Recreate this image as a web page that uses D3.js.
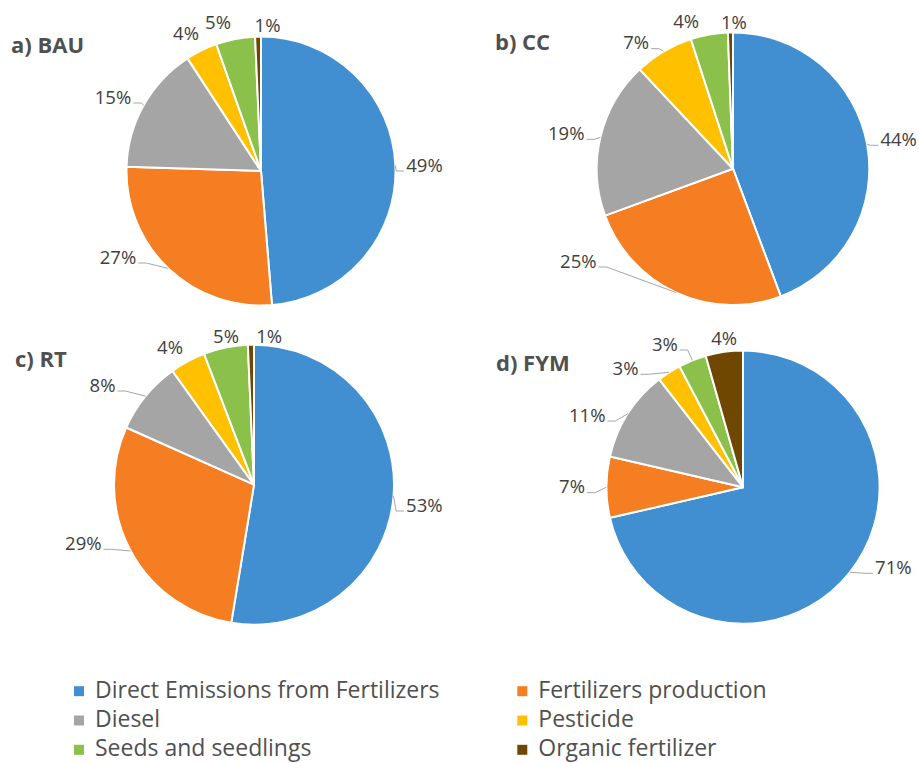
<!DOCTYPE html>
<html>
<head>
<meta charset="utf-8">
<script src="https://cdn.jsdelivr.net/npm/d3@7"></script>
<style>
  html, body { margin: 0; padding: 0; background: #ffffff; }
  svg { display: block; font-family: "Open Sans", "Noto Sans", sans-serif; }
</style>
</head>
<body>
<svg id="chart" width="919" height="763"></svg>
<script>
// ---- Data ----
const categories = [
  "Direct Emissions from Fertilizers",
  "Fertilizers production",
  "Diesel",
  "Pesticide",
  "Seeds and seedlings",
  "Organic fertilizer"
];
const scenarios = ["a) BAU", "b) CC", "c) RT", "d) FYM"];
const bauValues = [48.7, 26.8, 15.3, 3.8, 4.7, 0.7];
const ccValues  = [44.3, 25.1, 18.6, 7.0, 4.4, 0.6];
const rtValues  = [52.6, 29.1, 8.4, 4.1, 5.1, 0.7];
const fymValues = [71.4, 7.2, 10.9, 2.8, 3.3, 4.4];
const seriesValues = [bauValues, ccValues, rtValues, fymValues];

// ---- Styles / layout ----
const colors = ["#418fd0", "#f47e21", "#a5a5a5", "#ffc000", "#8bc04a", "#6f4700"];
const panels = [
  { cx: 261, cy: 171,   r: 134.5, tx: 11,  ty: 53 },
  { cx: 733, cy: 168.7, r: 136.3, tx: 495, ty: 50 },
  { cx: 254, cy: 484.7, r: 140,   tx: 15,  ty: 366.7 },
  { cx: 743, cy: 487.2, r: 136.6, tx: 496, ty: 371 }
];
// label centre offsets from pie centre [dx, dy, leader]
const labelLayout = [
  [[163.5, -6, 1], [-143, 86, 1], [-148, -74, 1], [-75, -138, 0], [-43, -149, 0], [6.5, -146, 0]],
  [[165.7, -29.4, 1], [-154.7, 92.3, 1], [-166.8, -35.4, 1], [-96.8, -126, 1], [-46.8, -147, 0], [0.8, -146, 0]],
  [[170.3, 20.3, 1], [-170.7, 58.6, 1], [-151.5, -99.7, 1], [-84, -137.4, 0], [-28, -148, 0], [15.2, -148, 0]],
  [[150.3, 80.1, 1], [-171, -0.5, 1], [-155.8, -72.2, 1], [-117.5, -118.9, 1], [-78.2, -143.2, 1], [-18.8, -148.9, 0]]
];

const svg = d3.select("#chart");
const color = d3.scaleOrdinal().domain(categories).range(colors);
const pct = d3.format(".0%");
const pie = d3.pie().sort(null).value(d => d.value);

scenarios.forEach((name, i) => {
  const p = panels[i];
  const vals = seriesValues[i];
  const total = d3.sum(vals);
  const data = categories.map((c, k) => ({ cat: c, value: vals[k] }));
  const arcs = pie(data);
  const arc = d3.arc().innerRadius(0).outerRadius(p.r);
  const g = svg.append("g").attr("transform", `translate(${p.cx},${p.cy})`);

  g.selectAll("path.slice").data(arcs).join("path")
    .attr("class", "slice")
    .attr("d", arc)
    .attr("fill", d => color(d.data.cat))
    .attr("stroke", "#ffffff")
    .attr("stroke-width", 2)
    .attr("stroke-linejoin", "round");

  // labels
  arcs.forEach((d, k) => {
    const [dx, dy, lead] = labelLayout[i][k];
    const t = g.append("text")
      .attr("x", dx).attr("y", dy)
      .attr("dy", "0.36em")
      .attr("text-anchor", "middle")
      .attr("font-size", "18.5px")
      .attr("fill", "#404040")
      .text(pct(d.data.value / total));
    if (lead) {
      const w = t.node().getComputedTextLength();
      const mid = (d.startAngle + d.endAngle) / 2;
      const ax = Math.sin(mid) * p.r, ay = -Math.cos(mid) * p.r;
      const side = dx < 0 ? 1 : -1; // label on left -> attach at right edge
      const sx = dx + side * (w / 2 + 2), sy = dy + 6;
      const hx = sx + side * 8;
      g.insert("polyline", "text")
        .attr("points", `${sx},${sy} ${hx},${sy} ${ax},${ay}`)
        .attr("fill", "none")
        .attr("stroke", "#a6a6a6")
        .attr("stroke-width", 1);
    }
  });

  svg.append("text")
    .attr("x", p.tx).attr("y", p.ty)
    .attr("font-size", "22px")
    .attr("font-weight", "bold")
    .attr("fill", "#505050")
    .text(name);
});

// ---- Legend ----
const legendCols = [74, 517.3];
const legendRow0 = 697.5, legendStep = 29.3;
const leg = svg.append("g");
categories.forEach((c, k) => {
  const col = k % 2, row = Math.floor(k / 2);
  const x = legendCols[col], y = legendRow0 + row * legendStep;
  leg.append("rect")
    .attr("x", x).attr("y", y - 11.3)
    .attr("width", 10).attr("height", 10)
    .attr("fill", color(c));
  leg.append("text")
    .attr("x", x + 21).attr("y", y)
    .attr("font-size", "23px")
    .attr("fill", "#505050")
    .text(c);
});
</script>
</body>
</html>
